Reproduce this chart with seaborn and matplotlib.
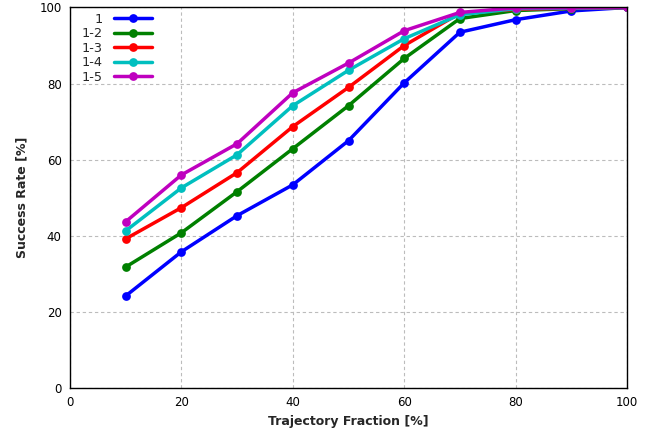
import matplotlib
matplotlib.use("Agg")
import matplotlib.pyplot as plt
import seaborn as sns
import pandas as pd

# Trajectory fraction (%) at which success is evaluated
fraction = [10, 20, 30, 40, 50, 60, 70, 80, 90, 100]

# Success rate (%) for each combination of segments
rate_1 = [24.2, 35.8, 45.3, 53.4, 65.0, 80.2, 93.5, 96.8, 99.1, 100.0]
rate_1_2 = [31.8, 40.8, 51.6, 62.9, 74.2, 86.6, 97.1, 99.2, 99.7, 100.0]
rate_1_3 = [39.2, 47.4, 56.6, 68.7, 79.0, 90.0, 98.5, 99.5, 99.8, 100.0]
rate_1_4 = [41.3, 52.6, 61.3, 74.2, 83.5, 91.8, 98.1, 99.7, 99.8, 100.0]
rate_1_5 = [43.7, 56.0, 64.2, 77.6, 85.4, 93.9, 98.7, 99.9, 99.9, 100.0]

series_names = ["1", "1-2", "1-3", "1-4", "1-5"]
series_values = [rate_1, rate_1_2, rate_1_3, rate_1_4, rate_1_5]
series_colors = ["#0000ff", "#008000", "#ff0000", "#00bfbf", "#bf00bf"]

frames = []
for name, vals in zip(series_names, series_values):
    frames.append(pd.DataFrame({"fraction": fraction, "rate": vals, "combo": name}))
df = pd.concat(frames, ignore_index=True)

sns.set_theme(style="white")
plt.rcParams["font.family"] = ["DejaVu Sans"]

fig = plt.figure(figsize=(6.6, 4.36), dpi=100)
ax = fig.add_axes([70 / 660, 1 - 388 / 436, 557 / 660, 380.5 / 436])

sns.lineplot(
    data=df, x="fraction", y="rate", hue="combo",
    palette=dict(zip(series_names, series_colors)),
    marker="o", markersize=6.3, markeredgewidth=0, linewidth=2.5,
    ax=ax, legend=True,
)

ax.set_xlim(0, 100)
ax.set_ylim(0, 100)
ax.set_xticks([0, 20, 40, 60, 80, 100])
ax.set_yticks([0, 20, 40, 60, 80, 100])
ax.tick_params(axis="both", length=0, labelsize=8.5, pad=6, colors="black")
ax.grid(True, color="#bcbcbc", linestyle=(0, (3, 2.5)), linewidth=0.8)
for sp in ax.spines.values():
    sp.set_color("black")
    sp.set_linewidth(1.0)

ax.set_xlabel("Trajectory Fraction [%]", fontsize=9, fontweight="bold", labelpad=4)
ax.set_ylabel("Success Rate [%]", fontsize=9, fontweight="bold", labelpad=8)

handles, labels = ax.get_legend_handles_labels()
ax.legend(
    handles, labels, loc="upper left", frameon=False, markerfirst=False,
    fontsize=9.3, handlelength=2.9, handletextpad=0.9, labelspacing=0.12,
    borderaxespad=0.0, bbox_to_anchor=(0.011, 1.0),
)

fig.savefig("out.png", dpi=100)
